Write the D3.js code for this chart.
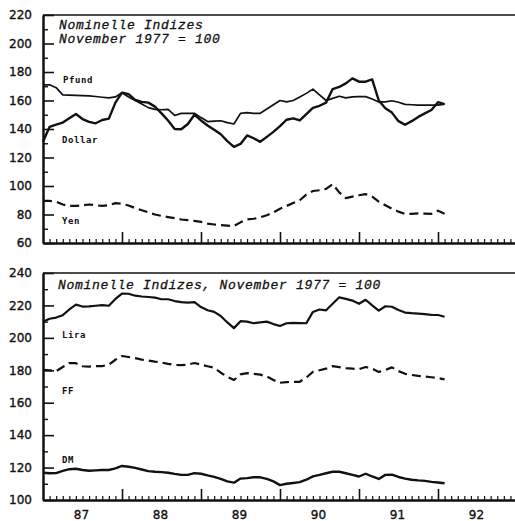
<!DOCTYPE html>
<html>
<head>
<meta charset="utf-8">
<script src="https://cdn.jsdelivr.net/npm/d3@7"></script>
<style>
  body { margin: 0; background: #fff; }
  svg { display: block; }
</style>
</head>
<body>
<svg width="515" height="521"></svg>
<script>
// Monthly index values, Jan 1987 .. Feb 1992 (November 1977 = 100)
var pfund = [171, 171, 169, 164, 163.8, 163.6, 163.4, 163.2, 162.8, 162.3, 161.8, 162.5,
             165.5, 162.5, 160, 157.5, 155, 153.8, 153.5, 153.8, 149.5, 151, 151, 151,
             148, 145.2, 145.5, 145.8, 144.5, 143.5, 151, 151.5, 151, 151, 154, 157,
             160, 159, 160, 162.5, 165, 168, 164, 160, 161.5, 163, 161.8, 162.5,
             162.7, 162.7, 161, 159, 159, 159.8, 158.8, 157.3, 157, 156.8, 156.8, 156.8,
             156.8, 157.5];
var dollar = [131, 141.5, 143, 144.5, 147.5, 150.5, 147, 145, 144, 146.3, 147.3, 158.5,
              165.5, 164.5, 160.5, 159, 158.5, 155.7, 151, 146, 140, 139.8, 143.5, 150,
              146, 142.5, 139.5, 136.3, 131.5, 127.5, 129.5, 135.5, 133.5, 131, 134.5, 138,
              142, 146.5, 147.5, 146, 150.5, 154.8, 156.3, 158.5, 168, 169.5, 172, 175.5,
              173.2, 173.2, 174.8, 160, 154.5, 151.5, 145.5, 143, 145.5, 148.5, 151, 153.3,
              158.8, 157.5];
var yen = [89.5, 89.5, 89, 87, 86, 86, 86.5, 87, 86.5, 86, 86.5, 88,
           87.5, 86.3, 84.5, 83, 81.5, 80, 79, 78.2, 77.5, 76.5, 76, 75.5,
           74.8, 73.6, 73, 72.6, 72.2, 71.9, 74.5, 76.5, 77, 78, 79.5, 81.5,
           84, 86, 88, 90, 94, 96.5, 97, 98, 101.3, 95.5, 91.5, 92.5,
           93.5, 94.3, 92.5, 89, 86.5, 84, 82, 80.3, 80.5, 80.8, 80.6, 80.5,
           82.7, 80.6];
var lira = [210, 211.8, 212.5, 214, 217.5, 220.5, 219.3, 219.4, 219.8, 220.2, 219.8, 224,
            227.3, 227.2, 226, 225.5, 225.2, 224.8, 223.8, 223.8, 222.7, 222, 221.7, 222,
            219, 217, 216, 213.5, 209.5, 206, 210.3, 210, 209, 209.5, 210, 208.5,
            207.3, 209, 209.2, 209.1, 209, 216, 217.5, 217, 221, 225, 224, 223,
            221, 223.5, 220, 216.8, 219.5, 219.2, 217.2, 215.6, 215.2, 214.9, 214.6, 214.2,
            214.1, 213];
var ff = [180.2, 180, 179.5, 182, 184.5, 184.4, 182.5, 182.3, 182.6, 182.6, 183.5, 186.5,
          188.8, 188.2, 187.5, 186.6, 186, 185.3, 184.8, 184, 183.3, 183.2, 183.5, 184.5,
          183.5, 182.5, 181.6, 178.5, 176, 174, 177.5, 178.2, 177.8, 177.3, 176.2, 174,
          172.3, 172.7, 172.9, 172.9, 175.5, 179, 180, 181, 182.6, 182, 181.3, 181,
          180.7, 182, 181, 179, 180.2, 181.8, 179.5, 177.8, 177.1, 176.5, 176.2, 175.7,
          175.2, 174.4];
var dm = [116.8, 116.5, 116.6, 118, 119, 119.3, 118.5, 118, 118.3, 118.5, 118.5, 119.5,
          121, 120.5, 119.8, 118.8, 117.8, 117.4, 117.2, 116.8, 116.1, 115.5, 115.5, 116.6,
          116.2, 115.2, 114.3, 113, 111.5, 110.7, 113.2, 113.5, 114, 114, 113, 111.5,
          109.2, 110, 110.5, 111, 112.5, 114.6, 115.5, 116.5, 117.4, 117.4, 116.5, 115.5,
          114.5, 116.2, 114.5, 113, 115.5, 115.6, 114.2, 113.2, 112.5, 112.1, 111.8, 111.2,
          110.8, 110.3];

var years = [1987, 1988, 1989, 1990, 1991, 1992];
var yearLabels = ["87", "88", "89", "90", "91", "92"];

var svg = d3.select("svg");
var ink = "#111";

var x = d3.scaleLinear().domain([1987, 1993]).range([43, 517]);
var yTop = d3.scaleLinear().domain([60, 220]).range([243, 15]);
var yBot = d3.scaleLinear().domain([100, 240]).range([500, 273]);

function monthDate(i) { return 1987 + i / 12; }

var monthTicks = d3.range(1, 72).filter(function(m) { return m % 12 != 0; }).map(monthDate);
var yearTicks = [1988, 1989, 1990, 1991, 1992, 1993];

function styleAxis(g, w) {
    g.select(".domain").attr("stroke", ink).attr("stroke-width", 2);
    g.selectAll(".tick line").attr("stroke", ink).attr("stroke-width", w);
    g.selectAll("text").attr("fill", ink).attr("font-family", "DejaVu Sans").attr("font-size", 12)
        .attr("stroke", ink).attr("stroke-width", 0.35);
}

// Draw one panel: frame, axes
function panel(y, lo, hi) {
    var top = y.range()[1], bottom = y.range()[0];
    var g = svg.append("g");

    g.append("line")
        .attr("x1", 43).attr("x2", 515)
        .attr("y1", top).attr("y2", top)
        .attr("stroke", ink).attr("stroke-width", 1.6);

    // y axis: minor every 10, major every 20 with labels
    g.append("g").attr("transform", "translate(43,0)")
        .call(d3.axisLeft(y).tickValues(d3.range(lo + 10, hi, 20)).tickSize(-5).tickSizeOuter(0).tickFormat(""))
        .call(styleAxis, 1.4);
    g.append("g").attr("transform", "translate(43,0)")
        .call(d3.axisLeft(y).tickValues(d3.range(lo, hi + 1, 20)).tickSize(-11).tickSizeOuter(0).tickPadding(11))
        .call(styleAxis, 1.6);

    // x axis: monthly ticks, long ticks at year boundaries
    g.append("g").attr("transform", "translate(0," + bottom + ")")
        .call(d3.axisBottom(x).tickValues(monthTicks).tickSize(-4).tickSizeOuter(0).tickFormat(""))
        .call(styleAxis, 1.2);
    g.append("g").attr("transform", "translate(0," + bottom + ")")
        .call(d3.axisBottom(x).tickValues(yearTicks).tickSize(-11).tickSizeOuter(0).tickFormat(""))
        .call(styleAxis, 1.6);

    return g;
}

var gTop = panel(yTop, 60, 220);
var gBot = panel(yBot, 100, 240);

// year labels under the bottom panel, centred in each year
gBot.append("g").attr("transform", "translate(-1.5,500)")
    .call(d3.axisBottom(x).tickValues(years.map(function(d) { return d + 0.5; }))
        .tickSize(0).tickPadding(10.5)
        .tickFormat(function(d, i) { return yearLabels[i]; }))
    .call(function(g) { g.select(".domain").remove(); })
    .selectAll("text").attr("fill", ink).attr("font-family", "DejaVu Sans").attr("font-size", 12)
    .attr("stroke", ink).attr("stroke-width", 0.35);

function curve(g, y, values, width, dash) {
    var line = d3.line()
        .x(function(d, i) { return x(monthDate(i)); })
        .y(function(d) { return y(d); });
    g.append("path")
        .datum(values)
        .attr("d", line)
        .attr("fill", "none")
        .attr("stroke", ink)
        .attr("stroke-width", width)
        .attr("stroke-linejoin", "round")
        .attr("stroke-dasharray", dash ? "9,5" : null);
}

curve(gTop, yTop, pfund, 1.7, false);
curve(gTop, yTop, dollar, 2.4, false);
curve(gTop, yTop, yen, 2.2, true);
curve(gBot, yBot, lira, 2.2, false);
curve(gBot, yBot, ff, 2.2, true);
curve(gBot, yBot, dm, 2.4, false);

// titles
function title(g, tx, ty, txt) {
    g.append("text")
        .attr("x", tx).attr("y", ty)
        .attr("font-family", "Liberation Mono")
        .attr("font-style", "italic")
        .attr("font-size", 13)
        .attr("letter-spacing", 0.7)
        .attr("fill", ink)
        .attr("stroke", ink).attr("stroke-width", 0.3)
        .text(txt);
}
title(gTop, 59, 29, "Nominelle Indizes");
title(gTop, 59, 42.5, "November 1977 = 100");
title(gBot, 58, 289, "Nominelle Indizes, November 1977 = 100");

// series labels
function label(g, tx, ty, txt) {
    g.append("text")
        .attr("x", tx).attr("y", ty)
        .attr("font-family", "DejaVu Sans Mono")
        .attr("font-weight", "bold")
        .attr("font-size", 9)
        .attr("letter-spacing", 0.6)
        .attr("fill", ink)
        .text(txt);
}
label(gTop, 63, 83, "Pfund");
label(gTop, 62, 143, "Dollar");
label(gTop, 62, 224, "Yen");
label(gBot, 62, 338, "Lira");
label(gBot, 62, 394, "FF");
label(gBot, 62, 463, "DM");
</script>
</body>
</html>
